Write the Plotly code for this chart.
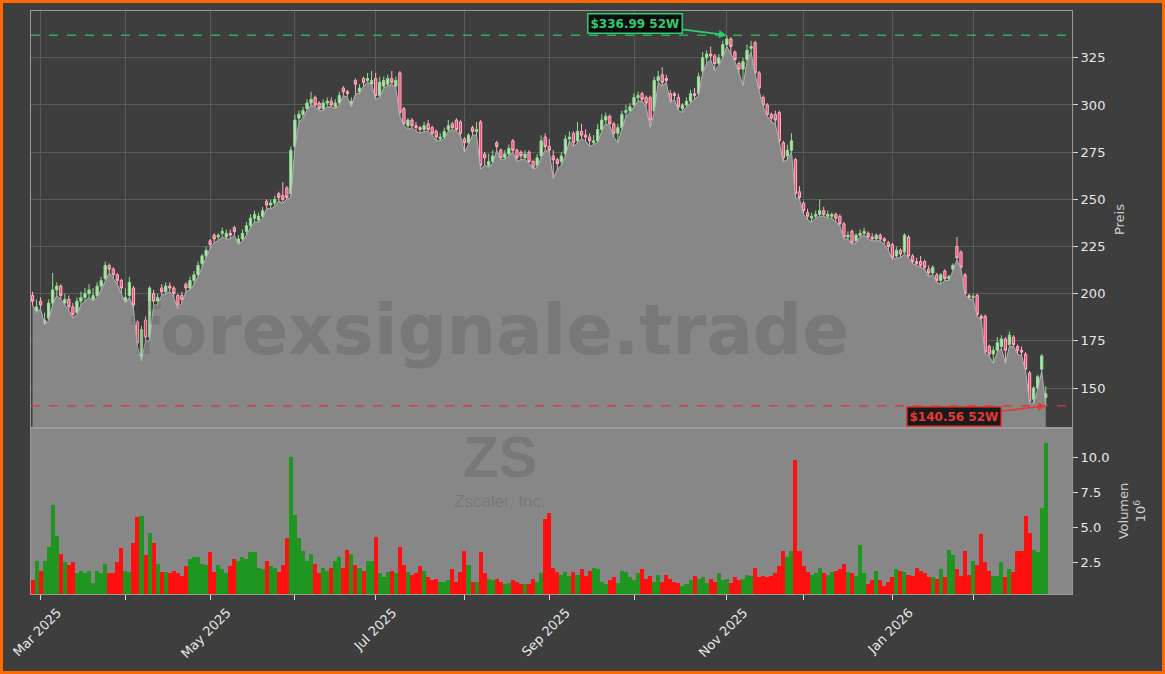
import pandas as pd
import plotly.graph_objects as go
from plotly.subplots import make_subplots

TICKER = "ZS"
COMPANY = "Zscaler, Inc."
WATERMARK = "forexsignale.trade"
START = "2025-02-27"
END = "2026-02-27"
HOLIDAYS = ["2025-04-18", "2025-05-26", "2025-06-19", "2025-07-04", "2025-09-01",
            "2025-11-27", "2025-12-25", "2026-01-01", "2026-01-19", "2026-02-16"]

open_ = [199,191,196,184,187,195,202,204,195,197,
         193,190,196,198,200,197,199,204,208,215,
         213,210,207,196,199,203,185,167,186,177,
         200,196,203,201,204,203,199,199,205,203,
         207,210,216,220,228,231,230,232,230,232,
         235,227,229,233,236,240,239,241,249,247,
         248,253,252,256,253,278,293,295,298,301,
         304,301,298,301,302,299,301,309,307,300,
         313,307,314,313,311,314,305,310,311,314,
         310,317,298,289,292,289,288,287,290,288,
         286,282,283,287,290,292,291,282,280,288,
         286,291,274,268,270,280,276,272,274,281,
         276,275,272,275,270,268,273,283,278,273,
         271,270,274,282,285,281,286,284,283,280,
         281,287,292,294,290,285,288,296,297,300,
         304,306,304,304,297,313,316,314,306,306,
         304,298,300,302,306,306,318,325,327,326,
         322,326,332,335,328,322,319,324,330,333,
         317,304,300,295,295,296,280,273,276,271,
         254,248,243,240,241,242,244,241,241,242,
         241,237,230,233,228,231,232,232,230,229,
         231,229,227,226,220,223,222,230,220,217,
         217,217,213,211,210,207,212,208,213,225,
         222,210,199,198,199,188,188,172,168,170,
         172,176,173,177,172,170,168,158,144,150,
         160,145]
high = [201,197,198,190,197,211,206,205,200,199,
        195,198,201,203,205,203,206,209,217,216,
        214,211,208,203,209,204,186,183,188,204,
        202,200,205,206,206,204,200,201,206,209,
        212,217,221,225,229,232,232,235,234,234,
        236,231,234,238,242,244,243,246,250,250,
        252,254,259,257,278,295,297,299,303,307,
        305,302,303,304,304,303,307,310,308,304,
        314,311,315,317,318,317,315,315,316,318,
        315,318,299,293,293,291,289,291,292,289,
        287,285,288,292,291,293,292,283,285,289,
        291,292,275,274,276,281,277,276,279,282,
        277,276,276,276,271,274,284,285,282,276,
        272,275,284,286,286,291,290,287,285,284,
        290,295,296,295,291,290,297,300,301,306,
        307,307,305,305,315,318,320,316,308,307,
        306,301,304,308,309,317,328,329,331,327,
        327,334,336.99,336,329,323,325,332,334,334,
        318,305,301,296,297,297,281,279,285,272,
        257,249,245,243,244,250,246,244,243,243,
        242,238,233,234,232,234,235,233,232,232,
        232,230,228,227,225,224,232,231,221,219,
        220,218,215,215,211,211,213,210,216,230,
        223,211,200,200,200,189,189,173,172,177,
        178,177,180,178,173,172,169,159,151,157,
        168,151]
low = [194,190,192,183.5,186,194,199,197,194,191,
       187,189,194,196,198,196,198,202,207,211,
       208,205,200,195,198,192,172,164.5,175,175,
       194,194,199,200,201,198,192,195,201,202,
       205,209,214,218,224,227,228,230,229,229,
       231,226,228,231,235,238,238,240,245,245,
       246,249,248,250,251,277,291,293,297,300,
       299,297,297,299,299,298,300,305,304,299,
       306,306,310,312,311,303,304,309,310,311,
       309,294,289,287,288,286,285,286,286,284,
       281,281,282,286,287,286,284,275,279,284,
       284,266,268,267,269,276,271,271,273,275,
       270,271,271,269,266,267,272,276,275,261,
       266,268,273,281,278,280,282,281,278,279,
       280,286,290,289,283,280,287,294,296,299,
       302,302,299,288,296,312,310,312,301,303,
       297,296,299,301,303,305,317,322,324,318,
       321,325,331,327,323,317,310,323,328,316,
       308,299,294,291,290,279,270,271,275,251,
       250,242,239,238,240,241,241,240,240,238,
       236,229,229,226,227,230,231,229,228,228,
       228,226,223,218,219,219,221,219,216,215,
       214,213,209,210,206,205,207,207,212,218,
       213,199,197,197,188,186,168,167,163,169,
       171,163,172,172,168,167,159,142,142,149,
       159,140.56]
close = [196,193,194,186,195,202,204,199,197,193,
         189,196,198,200,202,199,204,207,215,213,
         210,207,203,198,206,194,174,181,177,203,
         196,198,201,204,203,200,194,197,203,207,
         210,215,220,223,226,229,231,233,232,231,
         233,229,232,236,240,242,241,244,247,248,
         250,251,250,251,276,292,295,297,301,303,
         300,298,301,302,300,301,305,307,306,302,
         311,309,312,314,313,305,312,313,314,312,
         313,296,290,292,289,288,287,289,287,285,
         283,283,286,289,288,287,285,280,284,286,
         287,268,272,270,273,278,272,274,277,276,
         272,273,274,270,267,272,281,278,276,271,
         269,273,282,283,280,286,284,283,281,281,
         287,292,294,290,285,288,295,297,299,304,
         305,303,301,292,313,315,312,313,302,305,
         299,300,302,306,305,315,325,327,326,322,
         325,332,335,331,324,319,323,329,331,317,
         309,300,295,293,292,281,272,276,281,253,
         251,244,241,241,242,244,242,242,242,240,
         237,230,231,227,231,232,233,230,229,231,
         229,228,225,219,223,221,231,220,217,216,
         215,214,211,214,207,210,208,209,215,219,
         214,200,198,198.5,189,187,169,168,170,174,
         176,170,178,173,170,169,160,143,150,156,
         167,147]
volume_m = [1.2,2.6,1.9,2.6,3.6,6.6,4.4,3.1,2.5,2.3,
            2.5,1.7,1.9,1.7,1.9,1.0,1.9,1.7,2.4,1.7,
            1.7,2.5,3.5,1.9,1.8,3.9,5.7,5.8,3.0,4.6,
            3.9,2.4,1.8,1.8,1.7,1.9,1.7,1.5,2.2,2.7,
            2.9,2.9,2.4,2.3,3.2,1.8,2.3,2.0,1.7,2.2,
            2.7,2.6,2.9,2.7,3.2,3.2,2.1,2.0,2.6,2.2,
            2.1,1.8,2.3,4.2,10.0,5.9,4.2,3.3,2.6,3.1,
            2.4,1.7,2.1,1.9,2.1,2.6,2.9,2.1,3.4,3.1,
            2.3,2.1,1.9,2.6,2.6,4.3,1.7,1.4,1.8,1.9,
            1.7,3.6,2.3,1.8,1.6,1.7,2.2,1.9,1.4,1.2,
            1.3,1.1,1.1,1.2,2.0,1.1,1.8,3.3,2.3,1.1,
            1.1,3.2,1.7,1.3,1.2,1.3,1.1,0.9,1.0,1.2,
            1.1,0.9,0.9,0.9,1.3,1.1,1.7,5.6,6.0,2.1,
            1.8,1.6,1.8,1.5,1.8,1.6,2.0,1.5,1.9,2.1,
            2.0,1.1,0.9,1.2,1.4,1.0,1.9,1.8,1.4,1.2,
            1.7,2.0,1.3,1.5,1.1,1.6,1.1,1.6,1.3,1.1,
            1.0,0.8,0.9,1.2,1.5,1.3,1.4,1.0,1.3,1.1,
            1.7,1.2,1.3,1.0,1.4,1.2,1.3,1.6,1.5,2.1,
            1.4,1.5,1.4,1.5,1.7,2.2,3.3,2.9,3.3,9.8,
            3.3,2.2,1.8,1.6,1.7,2.1,1.7,1.6,1.8,1.9,
            2.0,2.4,1.8,1.7,1.5,3.7,1.7,0.9,1.2,1.9,
            1.2,0.8,1.1,1.4,2.0,1.9,1.8,1.6,1.5,2.1,
            1.9,1.7,1.4,1.4,1.3,2.0,1.4,3.4,3.0,2.0,
            1.5,3.3,1.6,2.6,2.3,4.5,2.5,1.9,1.5,1.5,
            2.5,1.4,2.0,1.8,3.3,3.3,5.8,4.6,3.4,3.2,
            6.4,11.0]

MONTH_LABELS = ["Mar 2025", "May 2025", "Jul 2025", "Sep 2025", "Nov 2025", "Jan 2026"]

dates = [d for d in pd.bdate_range(START, END) if d.strftime("%Y-%m-%d") not in HOLIDAYS]
n = len(dates)
assert len(open_) == n and len(high) == n and len(low) == n and len(close) == n and len(volume_m) == n, \
    (n, len(open_), len(high), len(low), len(close), len(volume_m))

# first trading day of each month from March 2025 on -> month ticks
month_ticks = []
seen = set()
for d in dates:
    key = (d.year, d.month)
    if key not in seen:
        seen.add(key)
        if not (d.year == 2025 and d.month == 2):
            month_ticks.append(d)
major_ticks = month_ticks[0::2]
minor_ticks = month_ticks[1::2]

BG = "#3e3e3e"
GRID = "#5a5a5a"
PANEL_LINE = "#9a9a9a"
FONT = "DejaVu Sans"
WM_FONT = "Liberation Sans"
WM_COLOR = "rgba(45,45,45,0.17)"
BREAKS = [dict(bounds=["sat", "mon"]), dict(values=HOLIDAYS)]

fig = make_subplots(rows=2, cols=1, shared_xaxes=True, vertical_spacing=0,
                    row_heights=[0.7153, 0.2847])

fig.add_trace(go.Scatter(x=dates, y=low, mode="lines", line=dict(color="#b4b4b4", width=1),
                         fill="tozeroy", fillcolor="#878787", hoverinfo="skip", showlegend=False),
              row=1, col=1)
fig.add_trace(go.Candlestick(x=dates, open=open_, high=high, low=low, close=close,
                             increasing=dict(line=dict(color="#8fe08f", width=1), fillcolor="#c2dcc2"),
                             decreasing=dict(line=dict(color="#ffb3c1", width=1), fillcolor="#f0507a"),
                             whiskerwidth=0, showlegend=False),
              row=1, col=1)
vol_colors = ["#1f961f" if c >= o else "#ff1010" for o, c in zip(open_, close)]
fig.add_trace(go.Bar(x=dates, y=volume_m, marker=dict(color=vol_colors, line=dict(width=0)),
                     showlegend=False),
              row=2, col=1)

hi_val = max(high)
lo_val = min(low)
hi_idx = high.index(hi_val)
lo_idx = low.index(lo_val)

xr = ["2025-02-26 15:00", "2026-03-09 12:00"]
fig.update_layout(
    width=1165, height=674,
    margin=dict(l=31, r=93, t=11, b=80, autoexpand=False),
    paper_bgcolor=BG, plot_bgcolor=BG,
    font=dict(family=FONT, color="#e8e8e8", size=13),
    showlegend=False, bargap=0, boxgap=0.2,
    xaxis=dict(range=xr, rangebreaks=BREAKS, rangeslider=dict(visible=False),
               tickmode="array", tickvals=major_ticks, ticktext=MONTH_LABELS,
               showticklabels=False, ticks="", showgrid=True, gridcolor=GRID, gridwidth=1,
               minor=dict(tickmode="array", tickvals=minor_ticks, showgrid=True, gridcolor=GRID, ticks=""),
               showline=True, linecolor=PANEL_LINE, linewidth=1, mirror=True, zeroline=False),
    xaxis2=dict(range=xr, rangebreaks=BREAKS, tickmode="array", tickvals=major_ticks, ticktext=MONTH_LABELS,
                tickangle=-45, ticks="outside", ticklen=5, tickcolor="#d8d8d8", showgrid=False, automargin=False,
                minor=dict(tickmode="array", tickvals=minor_ticks, ticks="outside", ticklen=5,
                           tickcolor="#d8d8d8", showgrid=False),
                ticklabelshift=17, tickfont=dict(size=13, color="#e8e8e8"),
                showline=True, linecolor=PANEL_LINE, linewidth=1, mirror=True, zeroline=False),
    yaxis=dict(domain=[0.2847, 1.0], range=[128.8, 349.8], side="right", dtick=25, tick0=0,
               ticks="outside", ticklen=5, tickcolor="#d8d8d8", showgrid=True, gridcolor=GRID,
               tickfont=dict(size=13, color="#e8e8e8"), automargin=False,
               title=dict(text="Preis", font=dict(size=13, color="#cfcfcf"), standoff=10),
               showline=True, linecolor=PANEL_LINE, linewidth=1, mirror=True, zeroline=False),
    yaxis2=dict(domain=[0.0, 0.2847], range=[0.22, 12.1], side="right", dtick=2.5, tick0=0,
                tickformat=".1f", ticks="outside", ticklen=5, tickcolor="#d8d8d8", showgrid=False,
                tickfont=dict(size=13, color="#e8e8e8"), automargin=False,
                title=dict(text="Volumen<br>10<sup>6</sup>", font=dict(size=13, color="#cfcfcf"), standoff=10),
                showline=True, linecolor=PANEL_LINE, linewidth=1, mirror=True, zeroline=False),
)

shapes = [
    dict(type="rect", xref="x2 domain", yref="y2 domain", x0=0, x1=1, y0=0, y1=1,
         fillcolor="#878787", line=dict(width=0), layer="below"),
    dict(type="line", xref="x domain", yref="y", x0=0, x1=1, y0=hi_val, y1=hi_val,
         line=dict(color="rgba(46,190,100,0.85)", width=1.5, dash="dash")),
    dict(type="line", xref="x domain", yref="y", x0=0, x1=1, y0=lo_val, y1=lo_val,
         line=dict(color="rgba(230,50,50,0.85)", width=1.5, dash="dash")),
    dict(type="rect", xref="paper", yref="paper", x0=-0.02834, x1=1.08790, y0=-0.13465, y1=1.01630,
         line=dict(color="#ff6a00", width=3), fillcolor="rgba(0,0,0,0)", layer="above"),
]
fig.update_layout(shapes=shapes)

annotations = [
    dict(x=dates[hi_idx], y=hi_val, xref="x", yref="y", text=f"<b>${hi_val:.2f} 52W</b>",
         showarrow=True, arrowhead=2, arrowsize=1, arrowwidth=1.6, arrowcolor="#2ecc71",
         ax=-92, ay=-12, font=dict(family=FONT, size=12, color="#2ecc71"),
         bgcolor="#0d0d0d", bordercolor="#2ecc71", borderwidth=1.5, borderpad=2),
    dict(x=dates[lo_idx], y=lo_val, xref="x", yref="y", text=f"<b>${lo_val:.2f} 52W</b>",
         showarrow=True, arrowhead=2, arrowsize=1, arrowwidth=1.6, arrowcolor="#e53935",
         ax=-92, ay=11, font=dict(family=FONT, size=12, color="#e53935"),
         bgcolor="#1a1a1a", bordercolor="#e53935", borderwidth=1.5, borderpad=2),
    dict(x=0.44, y=0.453, xref="paper", yref="paper", xanchor="center", yanchor="middle",
         text=f"<b>{WATERMARK}</b>", showarrow=False,
         font=dict(family=FONT, size=69, color=WM_COLOR)),
    dict(x=0.4505, y=0.236, xref="paper", yref="paper", xanchor="center", yanchor="middle",
         text=f"<b>{TICKER}</b>", showarrow=False,
         font=dict(family=WM_FONT, size=58, color=WM_COLOR)),
    dict(x=0.4505, y=0.158, xref="paper", yref="paper", xanchor="center", yanchor="middle",
         text=COMPANY, showarrow=False,
         font=dict(family=WM_FONT, size=17, color=WM_COLOR)),
]
fig.update_layout(annotations=annotations)

fig.write_html("out.html", config={"displayModeBar": False},
               post_script="document.body.style.margin='0px';document.body.style.overflow='hidden';")
